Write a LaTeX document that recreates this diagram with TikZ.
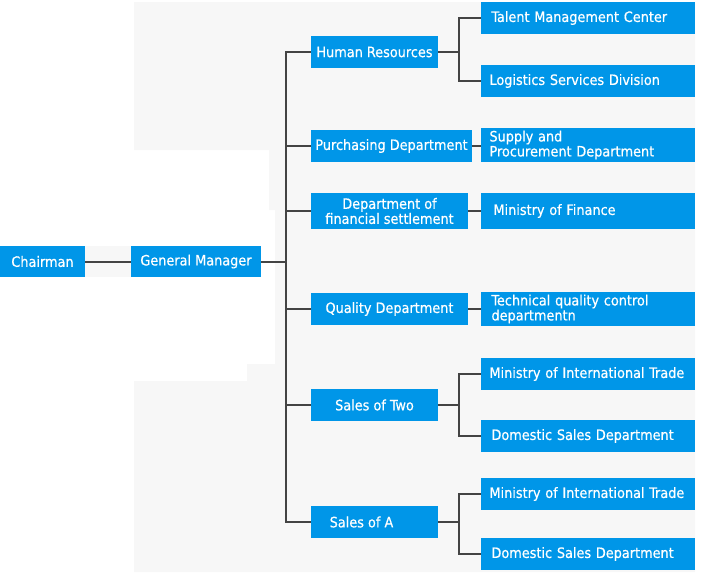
\documentclass[tikz,border=0pt]{standalone}
\usepackage{fontspec}
\setmainfont{DejaVu Sans}
\newfontfamily\boxfont{DejaVu Sans Condensed}[FakeBold=0.5]
\definecolor{boxblue}{HTML}{0096E8}
\definecolor{linegray}{HTML}{444444}
\definecolor{bggray}{HTML}{F7F7F7}
\begin{document}
\begin{tikzpicture}[x=1pt,y=-1pt,
  box/.style={fill=boxblue, text=white, inner sep=0pt, font=\boxfont\fontsize{14.3}{15}\selectfont},
  lbox/.style={box, align=center},
  rbox/.style={box, text width=197pt, align=left, minimum width=214pt},
  conn/.style={draw=linegray, line width=2pt}]
\useasboundingbox (0,0) rectangle (702,574);
\fill[bggray] (134,2) -- (695,2) -- (695,572) -- (134,572) -- (134,381) -- (247,381) -- (247,364) -- (275,364) -- (275,210) -- (269,210) -- (269,150) -- (134,150) -- cycle;
\fill[bggray] (85,246) rectangle (131,277);

% left part
\node[lbox, minimum width=85pt, minimum height=31pt] (ch) at (42.5,261.5) {Chairman};
\node[lbox, minimum width=130pt, minimum height=31pt] (gm) at (196,261.5) {General Manager};
\node[lbox, minimum width=127pt, minimum height=32pt] (hr) at (374.5,52) {Human Resources};
\node[lbox, minimum width=161pt, minimum height=32pt] (pd) at (391.5,146) {Purchasing Department};
\node[lbox, minimum width=157pt, minimum height=36pt] (dfs) at (389.5,211) {Department of\\financial settlement};
\node[lbox, minimum width=157pt, minimum height=32pt] (qd) at (389.5,309) {Quality Department};
\node[lbox, minimum width=127pt, minimum height=32pt] (s2) at (374.5,405) {Sales of Two};
\node[lbox, minimum width=127pt, minimum height=32pt] (sa) at (374.5,522) {\hspace*{-26pt}Sales of A};

% right column
\node[rbox, minimum height=32pt] (tmc) at (588,18) {\hspace*{2pt}Talent Management Center};
\node[rbox, minimum height=32pt] (lsd) at (588,81) {Logistics Services Division};
\node[rbox, minimum height=34pt] (spd) at (588,145) {Supply and\\Procurement Department};
\node[rbox, minimum height=36pt] (mof) at (588,211) {\hspace*{4pt}Ministry of Finance};
\node[rbox, minimum height=34pt] (tqc) at (588,309) {\hspace*{2pt}Technical quality control\\\hspace*{2pt}departmentn};
\node[rbox, minimum height=32pt] (mit1) at (588,374) {Ministry of International Trade};
\node[rbox, minimum height=32pt] (dsd1) at (588,436) {\hspace*{2pt}Domestic Sales Department};
\node[rbox, minimum height=32pt] (mit2) at (588,494) {Ministry of International Trade};
\node[rbox, minimum height=32pt] (dsd2) at (588,554) {\hspace*{2pt}Domestic Sales Department};

% connectors
\coordinate (t) at (286,261.5);
\draw[conn] (ch.east) -- (gm.west);
\draw[conn] (gm.east) -- (t);
\draw[conn] (hr.west) -- (t |- hr.west) -- (t |- sa.west) -- (sa.west);
\foreach \n in {pd,dfs,qd,s2} {\draw[conn] (t |- \n.west) -- (\n.west);}

\coordinate (b1) at (459,52);
\draw[conn] (tmc.west) -- (b1 |- tmc.west) -- (b1 |- lsd.west) -- (lsd.west);
\draw[conn] (hr.east) -- (b1);

\draw[conn] (pd.east) -- (pd.east -| spd.west);
\draw[conn] (dfs.east) -- (mof.west);
\draw[conn] (qd.east) -- (tqc.west);

\coordinate (b2) at (459,405);
\draw[conn] (mit1.west) -- (b2 |- mit1.west) -- (b2 |- dsd1.west) -- (dsd1.west);
\draw[conn] (s2.east) -- (b2);

\coordinate (b3) at (459,522);
\draw[conn] (mit2.west) -- (b3 |- mit2.west) -- (b3 |- dsd2.west) -- (dsd2.west);
\draw[conn] (sa.east) -- (b3);
\end{tikzpicture}
\end{document}
